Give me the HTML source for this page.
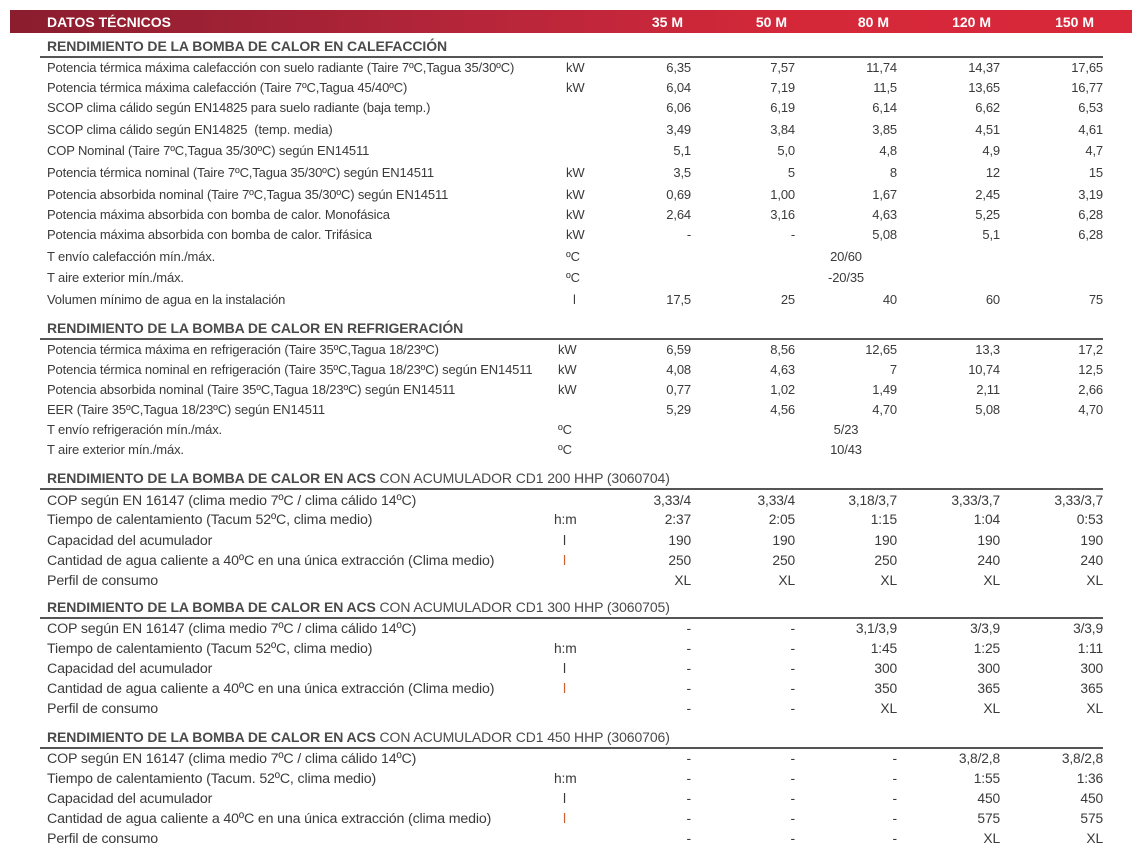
<!DOCTYPE html>
<html><head><meta charset="utf-8"><style>
*{margin:0;padding:0;box-sizing:border-box}
body{width:1143px;height:853px;background:#fff;position:relative;overflow:hidden;font-family:"Liberation Sans",sans-serif;color:#3a3a3a}
.bar{position:absolute;left:10px;top:10px;width:1122px;height:23px;background:linear-gradient(90deg,#8a1d2e 0%,#b5253a 40%,#d42839 70%,#d8283a 100%)}
.bar span{position:absolute;top:0;line-height:24px;color:#fff;font-weight:bold;font-size:14px}
.r{position:absolute;left:0;width:1143px;height:20px;line-height:20px;font-size:13px;white-space:nowrap;letter-spacing:-0.15px}
.r span{position:absolute}
.l{left:47px}
.u{left:566px}
.a{right:452px}.b{right:348px}.c{right:246px}.d{right:143px}.e{right:40px}
.m{left:846px;transform:translateX(-50%)}
.h{font-weight:bold;font-size:14px;color:#4a4a4a;letter-spacing:-0.1px}
.h i{font-style:normal;font-weight:normal}
.ln{position:absolute;left:40px;width:1063px;height:1.5px;background:#555}
.s .l{font-size:14.2px}
.s span{font-size:13.8px}
.or{color:#c9602e}
</style></head><body>
<div class="bar"><span style="left:37px">DATOS TÉCNICOS</span><span style="right:449px">35 M</span><span style="right:345px">50 M</span><span style="right:243px">80 M</span><span style="right:141px">120 M</span><span style="right:38px">150 M</span></div>

<div class="r h" style="top:36px"><span class="l">RENDIMIENTO DE LA BOMBA DE CALOR EN CALEFACCIÓN</span></div>
<div class="ln" style="top:56px"></div>
<div class="r" style="top:58px"><span class="l">Potencia térmica máxima calefacción con suelo radiante (Taire 7ºC,Tagua 35/30ºC)</span><span class="u">kW</span><span class="a">6,35</span><span class="b">7,57</span><span class="c">11,74</span><span class="d">14,37</span><span class="e">17,65</span></div>
<div class="r" style="top:78px"><span class="l">Potencia térmica máxima calefacción (Taire 7ºC,Tagua 45/40ºC)</span><span class="u">kW</span><span class="a">6,04</span><span class="b">7,19</span><span class="c">11,5</span><span class="d">13,65</span><span class="e">16,77</span></div>
<div class="r" style="top:98px"><span class="l">SCOP clima cálido según EN14825 para suelo radiante (baja temp.)</span><span class="a">6,06</span><span class="b">6,19</span><span class="c">6,14</span><span class="d">6,62</span><span class="e">6,53</span></div>
<div class="r" style="top:120px"><span class="l">SCOP clima cálido según EN14825 &nbsp;(temp. media)</span><span class="a">3,49</span><span class="b">3,84</span><span class="c">3,85</span><span class="d">4,51</span><span class="e">4,61</span></div>
<div class="r" style="top:141px"><span class="l">COP Nominal (Taire 7ºC,Tagua 35/30ºC) según EN14511</span><span class="a">5,1</span><span class="b">5,0</span><span class="c">4,8</span><span class="d">4,9</span><span class="e">4,7</span></div>
<div class="r" style="top:163px"><span class="l">Potencia térmica nominal (Taire 7ºC,Tagua 35/30ºC) según EN14511</span><span class="u">kW</span><span class="a">3,5</span><span class="b">5</span><span class="c">8</span><span class="d">12</span><span class="e">15</span></div>
<div class="r" style="top:185px"><span class="l">Potencia absorbida nominal (Taire 7ºC,Tagua 35/30ºC) según EN14511</span><span class="u">kW</span><span class="a">0,69</span><span class="b">1,00</span><span class="c">1,67</span><span class="d">2,45</span><span class="e">3,19</span></div>
<div class="r" style="top:205px"><span class="l">Potencia máxima absorbida con bomba de calor. Monofásica</span><span class="u">kW</span><span class="a">2,64</span><span class="b">3,16</span><span class="c">4,63</span><span class="d">5,25</span><span class="e">6,28</span></div>
<div class="r" style="top:225px"><span class="l">Potencia máxima absorbida con bomba de calor. Trifásica</span><span class="u">kW</span><span class="a">-</span><span class="b">-</span><span class="c">5,08</span><span class="d">5,1</span><span class="e">6,28</span></div>
<div class="r" style="top:247px"><span class="l">T envío calefacción mín./máx.</span><span class="u">ºC</span><span class="m">20/60</span></div>
<div class="r" style="top:268px"><span class="l">T aire exterior mín./máx.</span><span class="u">ºC</span><span class="m">-20/35</span></div>
<div class="r" style="top:290px"><span class="l">Volumen mínimo de agua en la instalación</span><span class="u" style="left:573px">l</span><span class="a">17,5</span><span class="b">25</span><span class="c">40</span><span class="d">60</span><span class="e">75</span></div>

<div class="r h" style="top:318px"><span class="l">RENDIMIENTO DE LA BOMBA DE CALOR EN REFRIGERACIÓN</span></div>
<div class="ln" style="top:338px"></div>
<div class="r" style="top:340px"><span class="l">Potencia térmica máxima en refrigeración (Taire 35ºC,Tagua 18/23ºC)</span><span class="u" style="left:558px">kW</span><span class="a">6,59</span><span class="b">8,56</span><span class="c">12,65</span><span class="d">13,3</span><span class="e">17,2</span></div>
<div class="r" style="top:360px"><span class="l">Potencia térmica nominal en refrigeración (Taire 35ºC,Tagua 18/23ºC) según EN14511</span><span class="u" style="left:558px">kW</span><span class="a">4,08</span><span class="b">4,63</span><span class="c">7</span><span class="d">10,74</span><span class="e">12,5</span></div>
<div class="r" style="top:380px"><span class="l">Potencia absorbida nominal (Taire 35ºC,Tagua 18/23ºC) según EN14511</span><span class="u" style="left:558px">kW</span><span class="a">0,77</span><span class="b">1,02</span><span class="c">1,49</span><span class="d">2,11</span><span class="e">2,66</span></div>
<div class="r" style="top:400px"><span class="l">EER (Taire 35ºC,Tagua 18/23ºC) según EN14511</span><span class="a">5,29</span><span class="b">4,56</span><span class="c">4,70</span><span class="d">5,08</span><span class="e">4,70</span></div>
<div class="r" style="top:420px"><span class="l">T envío refrigeración mín./máx.</span><span class="u" style="left:558px">ºC</span><span class="m">5/23</span></div>
<div class="r" style="top:440px"><span class="l">T aire exterior mín./máx.</span><span class="u" style="left:558px">ºC</span><span class="m">10/43</span></div>

<div class="r h" style="top:468px"><span class="l">RENDIMIENTO DE LA BOMBA DE CALOR EN ACS <i>CON ACUMULADOR CD1 200 HHP (3060704)</i></span></div>
<div class="ln" style="top:488px"></div>
<div class="r s" style="top:491px"><span class="l">COP según EN 16147 (clima medio 7ºC / clima cálido 14ºC)</span><span class="a">3,33/4</span><span class="b">3,33/4</span><span class="c">3,18/3,7</span><span class="d">3,33/3,7</span><span class="e">3,33/3,7</span></div>
<div class="r s" style="top:510px"><span class="l">Tiempo de calentamiento (Tacum 52ºC, clima medio)</span><span class="u" style="left:554px">h:m</span><span class="a">2:37</span><span class="b">2:05</span><span class="c">1:15</span><span class="d">1:04</span><span class="e">0:53</span></div>
<div class="r s" style="top:531px"><span class="l">Capacidad del acumulador</span><span class="u" style="left:563px">l</span><span class="a">190</span><span class="b">190</span><span class="c">190</span><span class="d">190</span><span class="e">190</span></div>
<div class="r s" style="top:551px"><span class="l">Cantidad de agua caliente a 40ºC en una única extracción (Clima medio)</span><span class="u or" style="left:563px">l</span><span class="a">250</span><span class="b">250</span><span class="c">250</span><span class="d">240</span><span class="e">240</span></div>
<div class="r s" style="top:571px"><span class="l">Perfil de consumo</span><span class="a">XL</span><span class="b">XL</span><span class="c">XL</span><span class="d">XL</span><span class="e">XL</span></div>

<div class="r h" style="top:597px"><span class="l">RENDIMIENTO DE LA BOMBA DE CALOR EN ACS <i>CON ACUMULADOR CD1 300 HHP (3060705)</i></span></div>
<div class="ln" style="top:617px"></div>
<div class="r s" style="top:619px"><span class="l">COP según EN 16147 (clima medio 7ºC / clima cálido 14ºC)</span><span class="a">-</span><span class="b">-</span><span class="c">3,1/3,9</span><span class="d">3/3,9</span><span class="e">3/3,9</span></div>
<div class="r s" style="top:639px"><span class="l">Tiempo de calentamiento (Tacum 52ºC, clima medio)</span><span class="u" style="left:554px">h:m</span><span class="a">-</span><span class="b">-</span><span class="c">1:45</span><span class="d">1:25</span><span class="e">1:11</span></div>
<div class="r s" style="top:659px"><span class="l">Capacidad del acumulador</span><span class="u" style="left:563px">l</span><span class="a">-</span><span class="b">-</span><span class="c">300</span><span class="d">300</span><span class="e">300</span></div>
<div class="r s" style="top:679px"><span class="l">Cantidad de agua caliente a 40ºC en una única extracción (Clima medio)</span><span class="u or" style="left:563px">l</span><span class="a">-</span><span class="b">-</span><span class="c">350</span><span class="d">365</span><span class="e">365</span></div>
<div class="r s" style="top:699px"><span class="l">Perfil de consumo</span><span class="a">-</span><span class="b">-</span><span class="c">XL</span><span class="d">XL</span><span class="e">XL</span></div>

<div class="r h" style="top:727px"><span class="l">RENDIMIENTO DE LA BOMBA DE CALOR EN ACS <i>CON ACUMULADOR CD1 450 HHP (3060706)</i></span></div>
<div class="ln" style="top:747px"></div>
<div class="r s" style="top:749px"><span class="l">COP según EN 16147 (clima medio 7ºC / clima cálido 14ºC)</span><span class="a">-</span><span class="b">-</span><span class="c">-</span><span class="d">3,8/2,8</span><span class="e">3,8/2,8</span></div>
<div class="r s" style="top:769px"><span class="l">Tiempo de calentamiento (Tacum. 52ºC, clima medio)</span><span class="u" style="left:554px">h:m</span><span class="a">-</span><span class="b">-</span><span class="c">-</span><span class="d">1:55</span><span class="e">1:36</span></div>
<div class="r s" style="top:789px"><span class="l">Capacidad del acumulador</span><span class="u" style="left:563px">l</span><span class="a">-</span><span class="b">-</span><span class="c">-</span><span class="d">450</span><span class="e">450</span></div>
<div class="r s" style="top:809px"><span class="l">Cantidad de agua caliente a 40ºC en una única extracción (clima medio)</span><span class="u or" style="left:563px">l</span><span class="a">-</span><span class="b">-</span><span class="c">-</span><span class="d">575</span><span class="e">575</span></div>
<div class="r s" style="top:829px"><span class="l">Perfil de consumo</span><span class="a">-</span><span class="b">-</span><span class="c">-</span><span class="d">XL</span><span class="e">XL</span></div>
</body></html>
